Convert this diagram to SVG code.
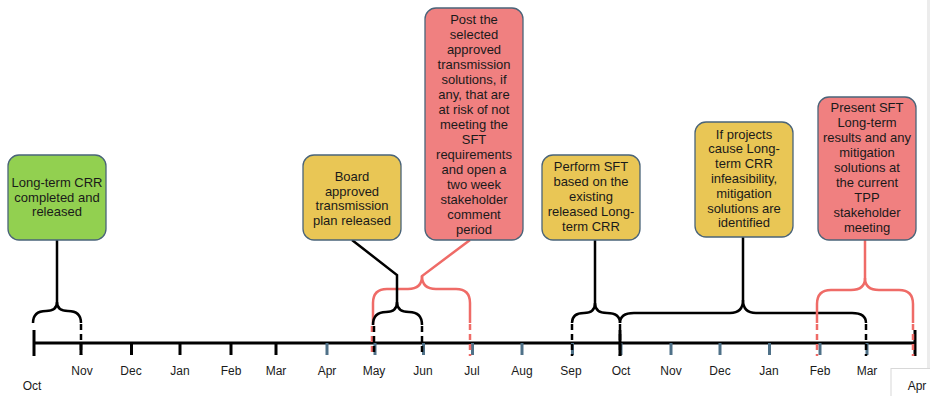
<svg xmlns="http://www.w3.org/2000/svg" width="930" height="396" viewBox="0 0 930 396">
<style>
.box{stroke:#4a6479;stroke-width:1.3}
.green{fill:#92d050}
.gold{fill:#e9c655}
.red{fill:#f08080}
.t{font-family:"Liberation Sans",Arial,sans-serif;font-size:13px;fill:#1a1a1a;text-anchor:middle}
.m{font-family:"Liberation Sans",Arial,sans-serif;font-size:12px;fill:#1a1a1a;text-anchor:middle}
.bk{fill:none;stroke:#000;stroke-width:2.5}
.rd{fill:none;stroke:#ef6b67;stroke-width:2.5}
.dash{stroke-dasharray:6 4}
.tk{stroke:#000;stroke-width:3}
.tb{stroke:#4f7188;stroke-width:3}
</style>
<rect x="927" y="0" width="3" height="368" fill="#ececec"/>
<g id="axis">
<line x1="34" y1="343" x2="915" y2="343" stroke="#000" stroke-width="3"/>
<line class="tk" x1="34" y1="330" x2="34" y2="356" stroke-width="3.5"/>
<line class="tk" x1="915" y1="330" x2="915" y2="356" stroke-width="3.5"/>
<line class="tk" x1="131.5" y1="343" x2="131.5" y2="355"/>
<line class="tk" x1="180" y1="343" x2="180" y2="355"/>
<line class="tk" x1="231" y1="343" x2="231" y2="355"/>
<line class="tk" x1="276" y1="343" x2="276" y2="355"/>
<line class="tb" x1="327" y1="343" x2="327" y2="355"/>
<line class="tb" x1="375" y1="343" x2="375" y2="355"/>
<line class="tb" x1="423.5" y1="343" x2="423.5" y2="355"/>
<line class="tb" x1="472.5" y1="343" x2="472.5" y2="355"/>
<line class="tb" x1="522" y1="343" x2="522" y2="355"/>
<line class="tb" x1="572.5" y1="343" x2="572.5" y2="355"/>
<line class="tb" x1="621" y1="343" x2="621" y2="355"/>
<line class="tb" x1="671" y1="343" x2="671" y2="355"/>
<line class="tb" x1="720" y1="343" x2="720" y2="355"/>
<line class="tb" x1="769.5" y1="343" x2="769.5" y2="355"/>
<line class="tb" x1="820" y1="343" x2="820" y2="355"/>
<line class="tb" x1="867" y1="343" x2="867" y2="355"/>
<text class="m" x="32" y="390">Oct</text>
<text class="m" x="82" y="375">Nov</text>
<text class="m" x="131" y="375">Dec</text>
<text class="m" x="180" y="375">Jan</text>
<text class="m" x="231" y="375">Feb</text>
<text class="m" x="276" y="375">Mar</text>
<text class="m" x="327" y="375">Apr</text>
<text class="m" x="374" y="375">May</text>
<text class="m" x="423" y="375">Jun</text>
<text class="m" x="472" y="375">Jul</text>
<text class="m" x="522" y="375">Aug</text>
<text class="m" x="571" y="375">Sep</text>
<text class="m" x="621" y="375">Oct</text>
<text class="m" x="671" y="375">Nov</text>
<text class="m" x="720" y="375">Dec</text>
<text class="m" x="769" y="375">Jan</text>
<text class="m" x="820" y="375">Feb</text>
<text class="m" x="867" y="375">Mar</text>
<rect x="891" y="368.5" width="45" height="30" fill="#fff" stroke="#d8d8d8" stroke-width="1"/>
<text class="m" x="917" y="390">Apr</text>
</g>
<g id="connectors">
<path class="bk" d="M57 240 V302 Q57 311 46 311 Q33 311 33 323"/>
<path class="bk" d="M57 302 Q57 311 68 311 Q81 311 81 323"/>
<line class="bk dash" x1="81" y1="324" x2="81" y2="355"/>
<line class="tk" x1="81" y1="342" x2="81" y2="355"/>
<path class="rd" d="M470 240 L422 276 Q422 289 436 289 L456 289 Q470 289 470 303 V323"/>
<path class="rd" d="M422 276 Q422 289 408 289 L387 289 Q373 289 373 303 V325"/>
<line class="rd dash" x1="372" y1="326" x2="372" y2="356"/>
<line class="rd dash" x1="470" y1="324" x2="470" y2="356"/>
<path class="bk" d="M352 240 L397 275 V302 Q397 312 386 312 Q373 312 373 325"/>
<path class="bk" d="M397 302 Q397 312 409 312 Q422 312 422 325"/>
<line class="bk dash" x1="374" y1="326" x2="374" y2="356"/>
<line class="bk dash" x1="422" y1="326" x2="422" y2="356"/>
<path class="bk" d="M595 240 V303 Q595 313 584 313 Q572 313 572 323"/>
<path class="bk" d="M595 303 Q595 313 607 313 Q620 313 620 323"/>
<path class="bk" d="M743 237 V300 Q743 313 730 313 L634 313 Q620 313 620 323"/>
<path class="bk" d="M743 300 Q743 313 756 313 L852 313 Q866 313 866 323"/>
<line class="bk dash" x1="572" y1="324" x2="572" y2="356"/>
<line class="bk dash" x1="620" y1="324" x2="620" y2="356"/>
<line class="tk" x1="620" y1="330" x2="620" y2="356" stroke-width="3.5"/>
<line class="bk dash" x1="866" y1="324" x2="866" y2="356"/>
<path class="rd" d="M865 240 V278 Q865 290 851 290 L831 290 Q817 290 817 304 V323"/>
<path class="rd" d="M865 278 Q865 290 879 290 L899 290 Q913 290 913 304 V323"/>
<line class="rd dash" x1="817" y1="324" x2="817" y2="356"/>
<line class="rd dash" x1="913" y1="324" x2="913" y2="356"/>
</g>
<g id="node-crr-released">
<rect class="box green" x="8" y="155" width="98" height="85" rx="11"/>
<text class="t" x="57" y="187">Long-term CRR</text>
<text class="t" x="57" y="201.5">completed and</text>
<text class="t" x="57" y="216">released</text>
</g>
<g id="node-board">
<rect class="box gold" x="303" y="155" width="98" height="85" rx="11"/>
<text class="t" x="352" y="181">Board</text>
<text class="t" x="352" y="195.5">approved</text>
<text class="t" x="352" y="210">transmission</text>
<text class="t" x="352" y="224.5">plan released</text>
</g>
<g id="node-post">
<rect class="box red" x="425" y="8" width="98" height="232" rx="11"/>
<text class="t" x="474" y="23.5">Post the</text>
<text class="t" x="474" y="38.5">selected</text>
<text class="t" x="474" y="53.5">approved</text>
<text class="t" x="474" y="68.5">transmission</text>
<text class="t" x="474" y="83.5">solutions, if</text>
<text class="t" x="474" y="98.5">any, that are</text>
<text class="t" x="474" y="113.5">at risk of not</text>
<text class="t" x="474" y="128.5">meeting the</text>
<text class="t" x="474" y="143.5">SFT</text>
<text class="t" x="474" y="158.5">requirements</text>
<text class="t" x="474" y="173.5">and open a</text>
<text class="t" x="474" y="188.5">two week</text>
<text class="t" x="474" y="203.5">stakeholder</text>
<text class="t" x="474" y="218.5">comment</text>
<text class="t" x="474" y="233.5">period</text>
</g>
<g id="node-perform">
<rect class="box gold" x="542" y="155" width="98" height="85" rx="11"/>
<text class="t" x="591" y="171">Perform SFT</text>
<text class="t" x="591" y="186">based on the</text>
<text class="t" x="591" y="201">existing</text>
<text class="t" x="591" y="216">released Long-</text>
<text class="t" x="591" y="231">term CRR</text>
</g>
<g id="node-projects">
<rect class="box gold" x="695" y="122" width="98" height="115" rx="11"/>
<text class="t" x="744" y="138.5">If projects</text>
<text class="t" x="744" y="153.3">cause Long-</text>
<text class="t" x="744" y="168.1">term CRR</text>
<text class="t" x="744" y="182.9">infeasibility,</text>
<text class="t" x="744" y="197.7">mitigation</text>
<text class="t" x="744" y="212.5">solutions are</text>
<text class="t" x="744" y="227.3">identified</text>
</g>
<g id="node-present">
<rect class="box red" x="818" y="97" width="98" height="143" rx="11"/>
<text class="t" x="867" y="111.5">Present SFT</text>
<text class="t" x="867" y="126.5">Long-term</text>
<text class="t" x="867" y="141.5">results and any</text>
<text class="t" x="867" y="156.5">mitigation</text>
<text class="t" x="867" y="171.5">solutions at</text>
<text class="t" x="867" y="186.5">the current</text>
<text class="t" x="867" y="201.5">TPP</text>
<text class="t" x="867" y="216.5">stakeholder</text>
<text class="t" x="867" y="231.5">meeting</text>
</g>
</svg>
